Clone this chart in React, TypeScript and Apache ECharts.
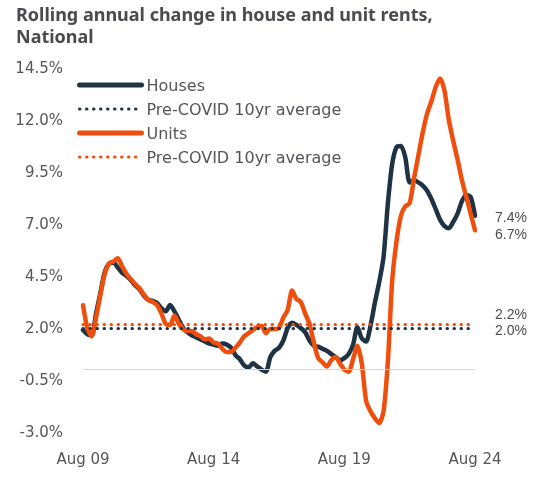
import React, { useEffect, useRef } from "react";
import * as echarts from "echarts";

const START_YEAR = 2009;
const START_MONTH = 7; // Aug (0-based)
const STEP_MONTHS = 2;
const MONTH_NAMES = ["Jan", "Feb", "Mar", "Apr", "May", "Jun", "Jul", "Aug", "Sep", "Oct", "Nov", "Dec"];

const HOUSES = [
  1.9, 1.7, 1.65, 2.7, 3.7, 4.7, 5.1, 5.15, 4.9, 4.65,
  4.5, 4.3, 4.05, 3.85, 3.55, 3.35, 3.3, 3.2, 2.95, 2.8,
  3.1, 2.8, 2.4, 2.0, 1.8, 1.65, 1.55, 1.45, 1.35, 1.25,
  1.2, 1.15, 1.25, 1.2, 1.05, 0.7, 0.5, 0.2, 0.1, 0.3,
  0.15, 0.0, -0.1, 0.6, 0.9, 1.05, 1.4, 2.0, 2.25, 2.15,
  2.0, 1.8, 1.4, 1.15, 1.1, 1.0, 0.9, 0.75, 0.6, 0.45,
  0.55, 0.75, 1.2, 2.05, 1.5, 1.35, 2.1, 3.2, 4.2, 5.4,
  8.0, 9.9, 10.7, 10.75, 10.2, 9.0, 9.1, 9.0, 8.85, 8.6,
  8.2, 7.7, 7.2, 6.9, 6.8, 7.1, 7.5, 8.1, 8.4, 8.3, 7.4,
];

const UNITS = [
  3.1, 2.0, 1.6, 2.5, 3.6, 4.6, 5.1, 5.2, 5.35, 4.95,
  4.6, 4.35, 4.1, 3.9, 3.6, 3.35, 3.25, 3.1, 2.7, 2.2,
  2.15, 2.6, 2.2, 1.95, 1.85, 1.85, 1.7, 1.6, 1.45, 1.5,
  1.3, 1.25, 1.0, 0.85, 0.85, 1.05, 1.3, 1.6, 1.75, 1.9,
  2.05, 2.1, 1.75, 1.95, 1.95, 2.0, 2.5, 2.87, 3.8, 3.4,
  3.25, 2.7, 2.2, 1.3, 0.55, 0.35, 0.15, 0.45, 0.6, 0.3,
  0.0, -0.1, 0.5, 1.15, 0.3, -1.5, -2.0, -2.33, -2.57, -2.0,
  0.4, 4.3, 6.2, 7.4, 7.85, 8.0, 9.2, 10.3, 11.4, 12.3,
  12.9, 13.6, 14.0, 13.4, 12.0, 11.0, 10.1, 9.1, 8.3, 7.5, 6.7,
];

const HOUSE_AVG = 2.0;
const UNIT_AVG = 2.2;

const Y_MIN = -3.0;
const Y_MAX = 14.5;
const Y_STEP = 2.5;

const LEGEND_NAMES: Record<string, string> = {
  houses: "Houses",
  houseAvg: "Pre-COVID 10yr average",
  units: "Units",
  unitAvg: "Pre-COVID 10yr average",
};

const DARK = "#1f3344";
const ORANGE = "#f04e0c";
const TEXT = "#55555a";
const LABEL = "#4d4d52";
const DOTS = [0.5, 6.5];

const CATEGORIES = HOUSES.map((_, i) => {
  const total = START_MONTH + i * STEP_MONTHS;
  const y = START_YEAR + Math.floor(total / 12);
  const m = total % 12;
  return `${MONTH_NAMES[m]} ${String(y % 100).padStart(2, "0")}`;
});

export default function App() {
  const ref = useRef<HTMLDivElement>(null);
  useEffect(() => {
    if (!ref.current) return;
    const chart = echarts.init(ref.current, undefined, { renderer: "svg" });
    const font = "'DejaVu Sans', sans-serif";
    const endFont = "'Liberation Sans', Arial, sans-serif";
    chart.setOption({
      animation: false,
      title: {
        text: "Rolling annual change in house and unit rents,\nNational",
        left: 16,
        top: 3,
        padding: 0,
        textStyle: {
          fontFamily: "'Noto Sans', sans-serif",
          fontWeight: "bold",
          fontSize: 18,
          lineHeight: 22,
          color: "#4a4a4f",
        },
      },
      legend: {
        orient: "vertical",
        left: 72,
        top: 72,
        itemWidth: 62,
        itemHeight: 18,
        itemGap: 8,
        formatter: (n: string) => LEGEND_NAMES[n] ?? n,
        textStyle: { fontFamily: font, fontSize: 16, color: TEXT },
        data: [
          { name: "houses", itemStyle: { color: DARK, opacity: 0 }, lineStyle: { width: 5, color: DARK, cap: "round" } },
          { name: "houseAvg", itemStyle: { color: DARK, opacity: 0 }, lineStyle: { width: 3, color: DARK, type: DOTS, cap: "round" } },
          { name: "units", itemStyle: { color: ORANGE, opacity: 0 }, lineStyle: { width: 5, color: ORANGE, cap: "round" } },
          { name: "unitAvg", itemStyle: { color: ORANGE, opacity: 0 }, lineStyle: { width: 3, color: ORANGE, type: DOTS, cap: "round" } },
        ],
      },
      grid: { left: 83, right: 78, top: 68, bottom: 53 },
      xAxis: {
        type: "category",
        boundaryGap: false,
        data: CATEGORIES,
        axisLine: { show: false },
        axisTick: { show: false },
        axisLabel: {
          interval: 29,
          margin: 19,
          fontFamily: font,
          fontSize: 15,
          color: TEXT,
        },
      },
      yAxis: {
        type: "value",
        min: Y_MIN,
        max: Y_MAX,
        interval: Y_STEP,
        splitLine: { show: false },
        axisLine: { show: false },
        axisTick: { show: false },
        axisLabel: {
          margin: 20,
          fontFamily: font,
          fontSize: 15,
          color: TEXT,
          formatter: (v: number) => `${v.toFixed(1)}%`,
        },
      },
      series: [
        {
          name: "houses",
          type: "line",
          data: HOUSES,
          symbol: "none",
          smooth: 0.25,
          z: 3,
          lineStyle: { color: DARK, width: 4.5, cap: "round", join: "round" },
          itemStyle: { color: DARK },
          endLabel: {
            show: true,
            distance: 20,
            offset: [0, 1],
            formatter: (p: any) => `${Number(p.value).toFixed(1)}%`,
            fontFamily: endFont,
            fontSize: 14,
            color: LABEL,
          },
          markLine: {
            silent: true,
            symbol: ["none", "none"],
            label: { show: false },
            lineStyle: { color: "#d4d4d4", width: 1, type: "solid" },
            data: [{ yAxis: 0 }],
          },
        },
        {
          name: "houseAvg",
          type: "line",
          data: [],
          symbol: "none",
          lineStyle: { color: DARK, width: 3, type: DOTS, cap: "round" },
          itemStyle: { color: DARK },
          markLine: {
            silent: true,
            symbol: ["none", "none"],
            lineStyle: { color: DARK, width: 3, type: DOTS, cap: "round" },
            label: {
              show: true,
              position: "end",
              distance: 20,
              offset: [0, 2],
              formatter: `${HOUSE_AVG.toFixed(1)}%`,
              fontFamily: endFont,
              fontSize: 14,
              color: LABEL,
            },
            data: [{ yAxis: HOUSE_AVG }],
          },
        },
        {
          name: "units",
          type: "line",
          data: UNITS,
          symbol: "none",
          smooth: 0.25,
          z: 4,
          lineStyle: { color: ORANGE, width: 4.5, cap: "round", join: "round" },
          itemStyle: { color: ORANGE },
          endLabel: {
            show: true,
            distance: 20,
            offset: [0, 4],
            formatter: (p: any) => `${Number(p.value).toFixed(1)}%`,
            fontFamily: endFont,
            fontSize: 14,
            color: LABEL,
          },
        },
        {
          name: "unitAvg",
          type: "line",
          data: [],
          symbol: "none",
          lineStyle: { color: ORANGE, width: 3, type: DOTS, cap: "round" },
          itemStyle: { color: ORANGE },
          markLine: {
            silent: true,
            symbol: ["none", "none"],
            lineStyle: { color: ORANGE, width: 3, type: DOTS, cap: "round" },
            label: {
              show: true,
              position: "end",
              distance: 20,
              offset: [0, -10],
              formatter: `${UNIT_AVG.toFixed(1)}%`,
              fontFamily: endFont,
              fontSize: 14,
              color: LABEL,
            },
            data: [{ yAxis: UNIT_AVG }],
          },
        },
      ],
    });
    return () => chart.dispose();
  }, []);
  return (
    <div
      ref={ref}
      style={{ position: "fixed", left: 0, top: 0, width: 553, height: 485 }}
    />
  );
}
